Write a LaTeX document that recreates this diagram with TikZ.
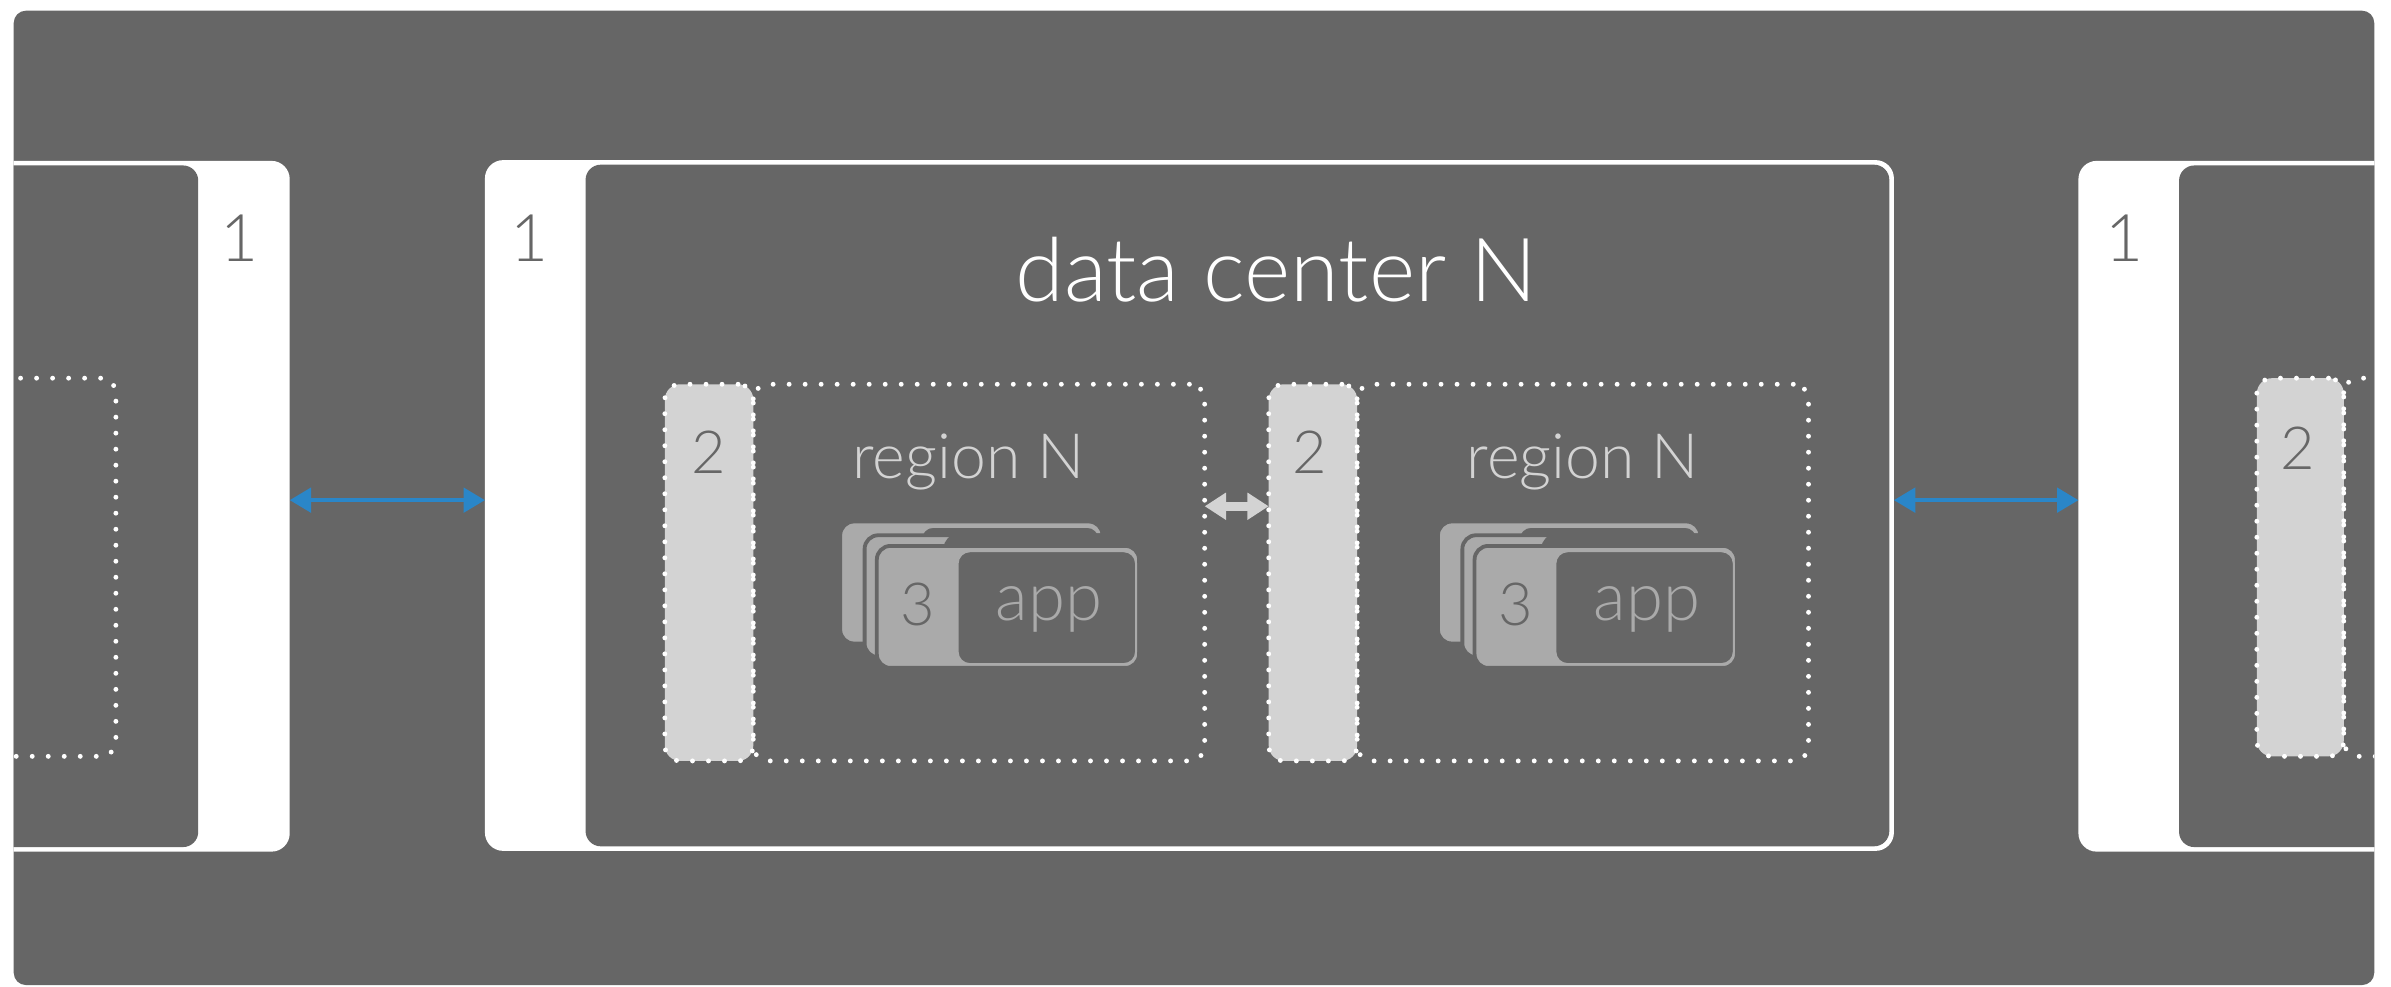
\documentclass[tikz,border=0pt]{standalone}
\usepackage{fontspec}
\setmainfont{Lato Light}
\usetikzlibrary{arrows.meta}
\definecolor{boxgray}{HTML}{666666}
\definecolor{bandgray}{HTML}{D3D3D3}
\definecolor{cardgray}{HTML}{AAAAAA}
\definecolor{linkblue}{HTML}{2A86C8}
\tikzset{
  dcouter/.style={fill=white, rounded corners=12pt, inner sep=0pt, outer sep=0pt, minimum height=453pt},
  dcinner/.style={fill=boxgray, rounded corners=10pt, inner sep=0pt, outer sep=0pt, minimum height=447pt},
  regionbox/.style={draw=white, line width=3.2pt, dash pattern=on 0pt off 10.5pt, line cap=round,
    rounded corners=10pt, inner sep=0pt, outer sep=0pt, minimum height=247pt, minimum width=296pt},
  regionband/.style={regionbox, fill=bandgray, minimum width=58pt},
  cardbase/.style={fill=cardgray, draw=boxgray, line width=2.5pt, rounded corners=9pt,
    inner sep=0pt, minimum width=172pt, minimum height=80pt},
  cardapp/.style={fill=boxgray, draw=cardgray, line width=1.3pt, rounded corners=8pt,
    inner sep=0pt, minimum width=117pt, minimum height=74pt},
  cardhide/.style={fill=boxgray, draw=boxgray, line width=2.5pt, rounded corners=9pt,
    inner sep=0pt, minimum width=119pt, minimum height=80pt},
  dclabel/.style={text=boxgray, anchor=base, font=\fontsize{43}{45}\selectfont},
  numlabel/.style={text=boxgray, anchor=base, font=\fontsize{39}{41}\selectfont},
  regionlabel/.style={text=bandgray, anchor=base, font=\fontsize{41}{43}\selectfont},
  applabel/.style={text=cardgray, anchor=base, font=\fontsize{44}{46}\selectfont},
  bluelink/.style={linkblue, line width=2.5pt, {Triangle[length=14pt,width=16pt]}-{Triangle[length=14pt,width=16pt]}},
  graylink/.style={bandgray, line width=6pt, {Triangle[length=14pt,width=17pt]}-{Triangle[length=14pt,width=17pt]}}
}
\begin{document}
\begin{tikzpicture}[x=1pt, y=-1pt]
  \useasboundingbox (0,0) rectangle (1568,647);
  \node[fill=boxgray, rounded corners=8pt, inner sep=0pt, minimum width=1548pt, minimum height=639pt] (frame) at (783,326.5) {};
  \begin{scope}
    \clip (9,0) rectangle (1557,647);
    % data centers
    \node[dcouter, minimum width=210pt] (dcL) at (85,332) {};
    \node[dcinner, minimum width=150pt] (dcLin) at (55,332) {};
    \node[dcouter, minimum width=924pt] (dcC) at (780,331.5) {};
    \node[dcinner, minimum width=855pt] (dcCin) at (811.5,331.5) {};
    \node[dcouter, minimum width=237pt] (dcR) at (1481.5,332) {};
    \node[dcinner, minimum width=171pt] (dcRin) at (1514.5,332) {};
    \node[dclabel] (oneL) at (157,171.5) {1};
    \node[dclabel] (oneC) at (347,171.5) {1};
    \node[dclabel] (oneR) at (1393,171.5) {1};
    \node[text=white, anchor=base, font=\fontsize{58}{60}\selectfont] (dcname) at (837,198) {data center N};
    % regions
    \node[regionbox, minimum height=248pt] (regL) at (-72,372) {};
    \node[regionband] (bandA) at (465,375.5) {};
    \node[regionbox] (regA) at (642,375.5) {};
    \node[regionband] (bandB) at (861,375.5) {};
    \node[regionbox] (regB) at (1038,375.5) {};
    \node[regionband, minimum width=57pt, minimum height=248pt] (bandR) at (1508.5,372) {};
    \node[regionbox, minimum height=248pt] (regR) at (1685,372) {};
    \node[numlabel] (twoA) at (465,310.5) {2};
    \node[numlabel] (twoB) at (859,310.5) {2};
    \node[numlabel] (twoR) at (1507,308) {2};
    \node[regionlabel] (nameA) at (635,314) {region N};
    \node[regionlabel] (nameB) at (1038,314) {region N};
    % app cards
    \foreach \dx/\tag in {0/A, 392/B} {
      \node[cardbase] (back\tag) at (637+\dx,382) {};
      \node[cardapp] (backapp\tag) at (662.5+\dx,382.5) {};
      \node[cardbase] (mid\tag) at (653+\dx,391) {};
      \node[cardhide] (midapp\tag) at (679.5+\dx,391) {};
      \node[cardbase] (card\tag) at (661+\dx,398) {};
      \node[cardapp] (app\tag) at (686.5+\dx,398.5) {};
      \node[numlabel] (three\tag) at (602+\dx,410) {3};
      \node[applabel] (apptext\tag) at (688+\dx,407) {app};
    }
  \end{scope}
  % links
  \draw[bluelink] ([yshift=4pt]dcL.east) -- ([yshift=3.5pt]dcC.west);
  \draw[bluelink] ([yshift=3.5pt]dcC.east) -- ([yshift=4pt]dcR.west);
  \draw[graylink] ([yshift=43.5pt]regA.east) -- ([yshift=43.5pt]bandB.west);
\end{tikzpicture}
\end{document}
